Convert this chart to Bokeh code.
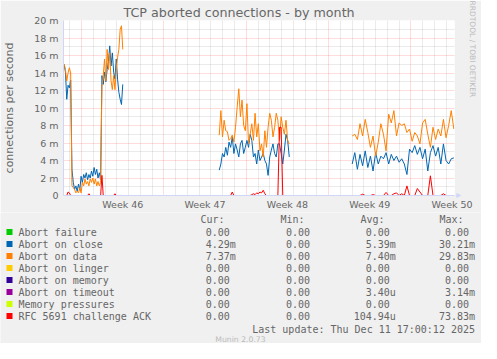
import numpy as np
from bokeh.plotting import figure
from bokeh.layouts import column
from bokeh.models import FixedTicker, Range1d, Title
from bokeh.core.properties import value
from bokeh.embed import file_html
from bokeh.resources import INLINE

# ---------------- data ----------------
title_text = "TCP aborted connections - by month"
y_label = "connections per second"
watermark = "RRDTOOL / TOBI OETIKER"
last_update = "Last update: Thu Dec 11 17:00:12 2025"
munin_version = "Munin 2.0.73"

series_names = ["Abort failure", "Abort on close", "Abort on data", "Abort on linger",
                "Abort on memory", "Abort on timeout", "Memory pressures",
                "RFC 5691 challenge ACK"]
series_colors = ["#00CC00", "#0066B3", "#FF8000", "#FFCC00",
                 "#330099", "#990099", "#CCFF00", "#FF0000"]
cur_vals = ["0.00", "4.29m", "7.37m", "0.00", "0.00", "0.00", "0.00", "0.00"]
min_vals = ["0.00", "0.00", "0.00", "0.00", "0.00", "0.00", "0.00", "0.00"]
avg_vals = ["0.00", "5.39m", "7.40m", "0.00", "0.00", "3.40u", "0.00", "104.94u"]
max_vals = ["0.00", "30.21m", "29.83m", "0.00", "0.00", "3.14m", "0.00", "73.83m"]
col_headers = ["Cur:", "Min:", "Avg:", "Max:"]

# x axis: days since Monday 10 Nov 2025 00:00 (start of ISO week 46)
week_labels = ["Week 46", "Week 47", "Week 48", "Week 49", "Week 50"]
week_starts = [0, 7, 14, 21, 28]
week_label_pos = [3.5, 10.5, 17.5, 24.5, 31.5]
graph_end = 31.708          # Thu 11 Dec 17:00
graph_span = 33.25          # days shown

y_ticks = [0, 2, 4, 6, 8, 10, 12, 14, 16, 18, 20]
y_tick_labels = ["0", "2 m", "4 m", "6 m", "8 m", "10 m", "12 m", "14 m", "16 m", "18 m", "20 m"]

# three stretches of data (start day, sampling step in days), values in milli-conn/s
seg_start = [-1.487, 11.702, 23.007]
seg_step = [0.1108, 0.1385, 0.2217]

close1 = [15.0, 14.1, 11.0, 12.6, 12.3, 13.2,
          3.0, 1.5, 0.7, 1.1, 0.5, 1.3, 0.6, 2.2, 1.5, 2.4, 2.0, 2.6, 1.8, 2.4, 2.0, 2.8,
          2.2, 3.2, 2.4, 3.0, 2.0, 2.6, 1.8,
          13.7, 12.7, 14.1, 13.0, 14.4, 15.3, 17.1, 14.8, 16.3, 14.1, 13.3, 15.6, 13.3,
          11.8, 11.0, 10.4, 12.7]
data1 = [15.0, 14.4, 13.1, 14.0, 14.6, 14.0,
         1.1, 0.9, 0.7, 0.3, 0.5, 0.3, 0.9, 0.3, 1.5, 1.1, 1.9, 1.3, 1.6, 1.1, 1.9, 1.5,
         2.0, 1.3, 1.9, 1.1, 1.6, 1.1, 1.5,
         12.5, 13.7, 15.6, 13.1, 16.7, 14.4, 16.3, 13.1, 12.1, 13.7, 12.1, 14.4, 15.8,
         16.7, 19.0, 19.4, 16.7]
rfc1 = [0, 0, 0, 0.4, 0.3, 0, 0, 0, 0, 0,
        0, 0, 0, 0, 0, 0, 0, 0, 0, 0.2,
        0, 0, 0, 0, 0, 0, 0, 0, 0, 2.3,
        0, 0, 0, 0, 0, 0, 0, 0, 0, 0.2,
        0, 0, 0, 0, 0, 0]

close2 = [2.9, 3.6, 4.8, 4.4, 5.5, 4.6, 6.1, 5.5, 6.7, 4.8, 5.9, 5.2, 4.4, 5.9, 6.3,
          4.8, 5.5, 6.3, 5.5, 7.0, 6.3, 4.4, 4.8, 3.6, 5.2, 4.0, 4.4, 4.8, 4.0, 3.6,
          2.3, 4.4, 5.2, 5.9, 4.8, 4.4, 5.9, 5.9, 4.8, 3.6, 5.2, 7.0, 6.3, 4.4]
data2 = [6.9, 9.7, 6.7, 8.6, 7.4, 7.3, 6.3, 6.5, 6.9, 6.1, 7.8, 10.1, 12.2, 9.0, 10.9,
         8.0, 7.4, 10.5, 5.9, 7.0, 8.2, 6.3, 9.4, 6.7, 8.2, 5.1, 5.9, 4.4, 7.4, 5.5,
         7.8, 9.4, 8.6, 6.7, 7.8, 9.4, 8.6, 6.3, 9.0, 7.8, 7.0, 8.6, 6.3, 5.9]
rfc2 = [0, 0, 0, 0, 0, 0, 0, 0, 0.4, 0,
        0, 0, 0, 0, 0, 0, 0, 0, 0, 0,
        0.1, 0.2, 0.1, 0.3, 0.2, 0.4, 0.3, 0.6, 0.2, 0,
        0, 0, 0, 0, 0, 0, 0, 7.8, 7.8, 0,
        0, 0, 0, 0]

close3 = [3.6, 4.9, 3.0, 4.7, 3.4, 5.1, 3.2, 4.5, 2.8, 4.9,
          3.6, 4.5, 4.2, 4.9, 3.6, 4.7, 4.0, 4.5, 3.8, 4.2,
          3.6, 2.4, 5.3, 4.9, 5.7, 4.7, 5.5, 4.2, 5.3, 2.8,
          4.9, 5.7, 4.5, 5.5, 3.6, 5.9, 4.0, 3.6, 4.2, 4.3]
data3 = [6.8, 7.0, 6.4, 8.2, 6.8, 8.7, 7.2, 5.5, 6.8, 4.5,
         6.1, 8.2, 7.0, 5.1, 9.3, 8.3, 9.7, 6.8, 8.3, 8.0,
         8.2, 7.2, 7.6, 6.2, 7.2, 6.8, 5.9, 8.3, 8.7, 7.0,
         5.5, 7.8, 6.4, 7.6, 6.8, 8.7, 6.6, 8.0, 9.7, 7.6]
rfc3 = [0, 0, 0, 0, 0.15, 0, 0, 0, 0.1, 0,
        0, 0, 0, 0.35, 0, 0, 0.2, 0.3, 0, 0.2,
        0, 1.1, 0, 0, 0, 0.8, 0.4, 0, 0, 0,
        2.25, 0, 0, 0, 0, 0.2, 0, 0, 0, 0]


def build(segments):
    xs, ys = [], []
    for vals, s0, st in zip(segments, seg_start, seg_step):
        if xs:
            xs.append(np.nan)
            ys.append(np.nan)
        xs += [s0 + st * i for i in range(len(vals))]
        ys += list(vals)
    return xs, ys


FONT = "#666666"
AXIS = "#CFD6F8"
BACK = "#F0F0F0"
MONO = "DejaVu Sans Mono"
SANS = "DejaVu Sans"

# ================= main graph =================
p = figure(width=481, height=212,
           x_range=Range1d(graph_end - graph_span, graph_end),
           y_range=Range1d(0, 20),
           output_backend="svg", toolbar_location=None,
           min_border_left=58, min_border_right=23,
           min_border_top=20, min_border_bottom=17)
p.frame_align = False
p.border_fill_color = BACK
p.background_fill_color = "#FFFFFF"
p.outline_line_color = None

p.title.text = title_text
p.title.align = "left"
p.title.offset = 60
p.title.standoff = 2
p.title.text_font = SANS
p.title.text_font_size = "12.7px"
p.title.text_font_style = "normal"
p.title.text_color = FONT

# grids
p.xgrid.ticker = FixedTicker(ticks=week_starts,
                             minor_ticks=[d for d in range(-1, 32) if d % 7 != 0])
p.ygrid.ticker = FixedTicker(ticks=[t for t in y_ticks if t > 0],
                             minor_ticks=[1, 3, 5, 7, 9, 11, 13, 15, 17, 19])
for g in (p.xgrid, p.ygrid):
    g.grid_line_color = "#FF0000"
    g.grid_line_alpha = 0.27
    g.grid_line_dash = "1 1"
    g.minor_grid_line_color = "#8C8C8C"
    g.minor_grid_line_alpha = 0.35
    g.minor_grid_line_dash = "1 1"

# axes
p.xaxis.ticker = FixedTicker(ticks=week_label_pos)
p.xaxis.major_label_overrides = {k: v for k, v in zip(week_label_pos, week_labels)}
p.yaxis.ticker = FixedTicker(ticks=y_ticks)
p.yaxis.major_label_overrides = {k: v for k, v in zip(y_ticks, y_tick_labels)}
for ax in (p.xaxis[0], p.yaxis[0]):
    ax.axis_line_color = AXIS
    ax.major_tick_line_color = None
    ax.minor_tick_line_color = None
    ax.major_tick_out = 0
    ax.major_tick_in = 0
    ax.minor_tick_out = 0
    ax.minor_tick_in = 0
    ax.major_label_text_font = SANS
    ax.major_label_text_font_size = "9.5px"
    ax.major_label_text_color = FONT
p.xaxis.major_label_standoff = 3
p.yaxis.major_label_standoff = 5
p.yaxis.axis_label = y_label
p.yaxis.axis_label_text_font = SANS
p.yaxis.axis_label_text_font_size = "11px"
p.yaxis.axis_label_text_font_style = "normal"
p.yaxis.axis_label_text_color = FONT
p.yaxis.axis_label_standoff = 15

# arrow at the end of the time axis, and the rrdtool watermark, on the right side
p.add_layout(Title(text="\u25B2", align="right", offset=-2.5, standoff=0,
                   text_font=SANS, text_font_size="6.5px", text_font_style="normal",
                   text_color=AXIS), "right")
p.add_layout(Title(text=watermark, align="left", offset=-20, standoff=6,
                   text_font=SANS, text_font_size="7.5px", text_font_style="normal",
                   text_color="#BBBBBB"), "right")

# data lines (munin draw order)
x1, y1 = build([close1, close2, close3])
x2, y2 = build([data1, data2, data3])
x3, y3 = build([rfc1, rfc2, rfc3])
p.line(x1, y1, line_color=series_colors[1], line_width=1)
p.line(x2, y2, line_color=series_colors[2], line_width=1)
p.line(x3, y3, line_color=series_colors[7], line_width=1)

# ================= legend block (page pixel coordinates) =================
q = figure(width=481, height=131,
           x_range=Range1d(8, 489), y_range=Range1d(351, 220),
           x_axis_type=None, y_axis_type=None,
           output_backend="svg", toolbar_location=None, min_border=0)
q.frame_align = False
q.border_fill_color = BACK
q.background_fill_color = BACK
q.outline_line_color = None
q.grid.visible = False

row_y = [239.5 + 12 * i for i in range(len(series_names))]
col_right = [243.3, 323.5, 403.3, 482.5]
header_x = [208, 288, 368, 447]


def fmt(v):
    return v if v[-1].isalpha() else v + "\u00a0"


def txt(xs, ys, texts, align="left", font=MONO, size="10px", color=FONT):
    q.text(x=xs, y=ys, text=texts, text_align=align, text_baseline="middle",
           text_font=value(font), text_font_size=value(size), text_color=color)


q.rect(x=[17] * len(series_names), y=row_y, width=6, height=6,
       fill_color=series_colors, line_color=None)
txt(header_x, [227] * 4, col_headers)
txt([26] * len(series_names), row_y, series_names)
for cx, col in zip(col_right, [cur_vals, min_vals, avg_vals, max_vals]):
    txt([cx] * len(col), row_y, [fmt(v) for v in col], align="right")
txt([482.5], [336.7], [last_update], align="right")
txt([248], [347.3], [munin_version], align="center", font=SANS, size="7.7px", color="#BBBBBB")

layout = column(p, q)
open("out.html", "w").write(file_html(layout, INLINE))
